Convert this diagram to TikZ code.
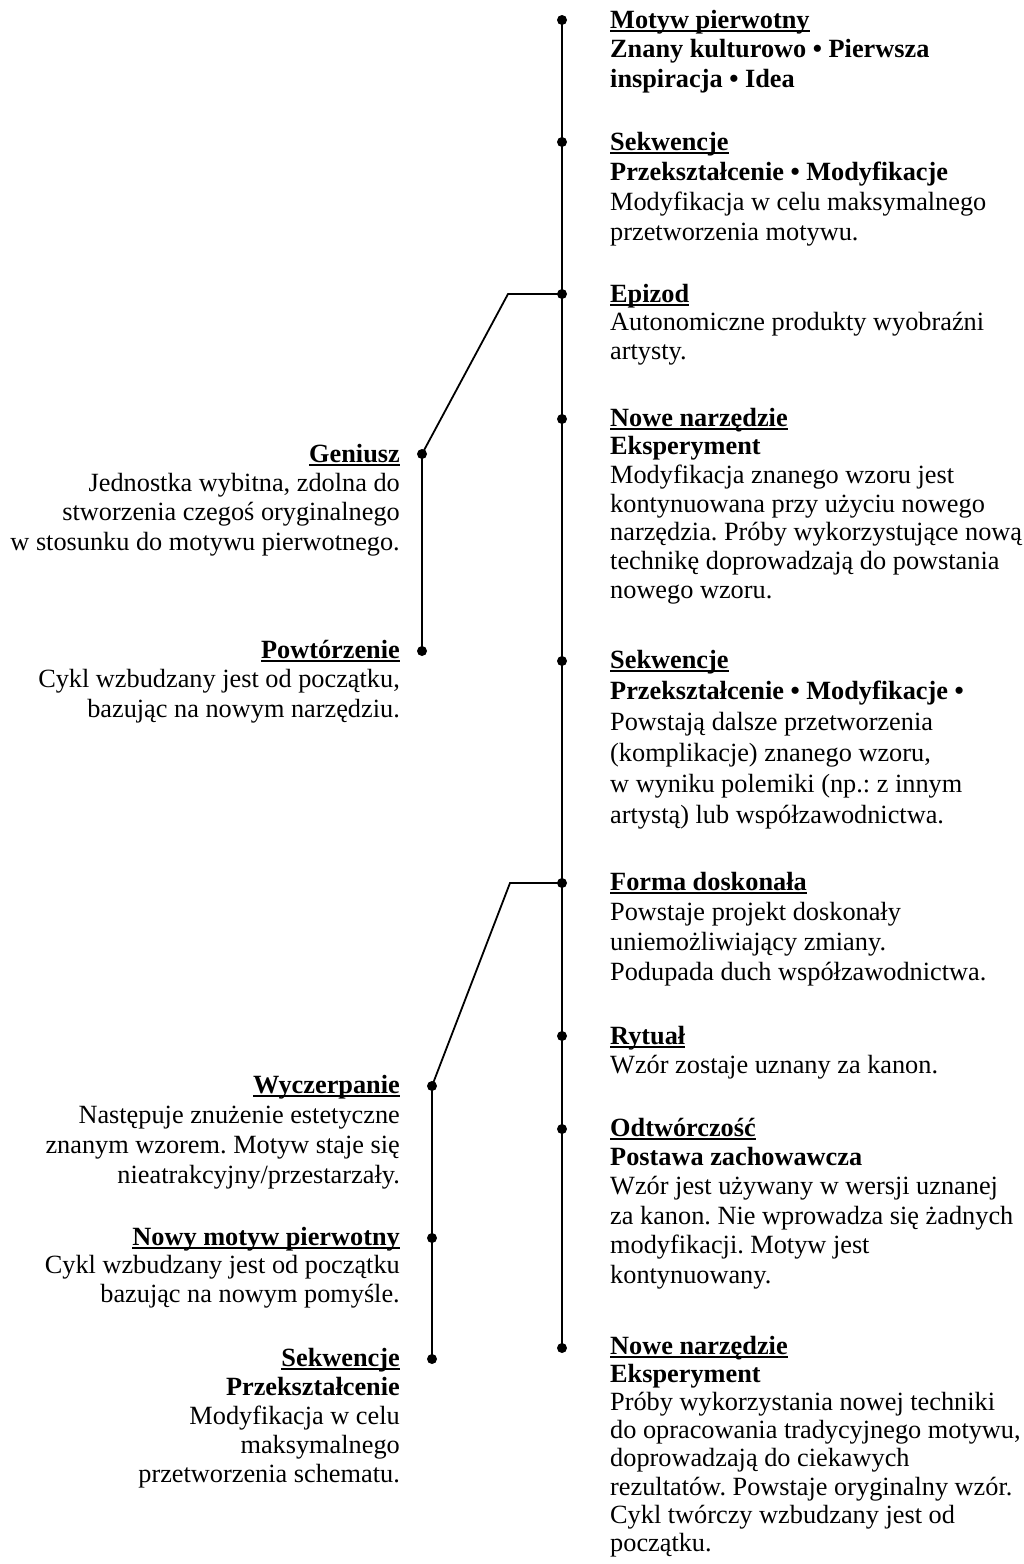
\documentclass[tikz,border=0pt]{standalone}
\usepackage{fontspec}
\setmainfont{Liberation Serif}
\frenchspacing
\newcommand{\ttl}[1]{\setbox0\hbox{\textbf{#1}}\rlap{\rule[-4pt]{\wd0}{1.7pt}}\box0}
\newcommand{\tb}[2]{\begin{tabular}[t]{@{}#1@{}}#2\end{tabular}}
\begin{document}
\begin{tikzpicture}[x=1pt,y=-1pt,
  dot/.style={circle,fill=black,inner sep=0pt,minimum size=10pt},
  rtext/.style={anchor=base west,inner sep=0pt,font=\fontsize{26.3}{#1}\selectfont\frenchspacing},
  rtext/.default=29.5,
  ltext/.style={anchor=base east,inner sep=0pt,font=\fontsize{26.3}{#1}\selectfont\frenchspacing},
  ltext/.default=29.5,
  conn/.style={line width=1.8pt}]
\useasboundingbox (0,0) rectangle (1024,1564);
% main line dots
\node[dot] (d1) at (562,20) {};
\node[dot] (d2) at (562,142) {};
\node[dot] (d3) at (562,294) {};
\node[dot] (d4) at (562,419) {};
\node[dot] (d5) at (562,661) {};
\node[dot] (d6) at (562,883) {};
\node[dot] (d7) at (562,1036) {};
\node[dot] (d8) at (562,1129) {};
\node[dot] (d9) at (562,1348) {};
% branch dots
\node[dot] (g1) at (422,454) {};
\node[dot] (g2) at (422,651) {};
\node[dot] (w1) at (432,1086) {};
\node[dot] (w2) at (432,1238) {};
\node[dot] (w3) at (432,1359) {};
\coordinate (k1) at (508,294);
\coordinate (k2) at (510,883);
% connectors
\draw[conn] (d1.center) -- (d9.center);
\draw[conn] (d3.center) -- (k1) -- (g1.center) -- (g2.center);
\draw[conn] (d6.center) -- (k2) -- (w1.center) -- (w3.center);
% right texts
\node[rtext] (t1) at (610,28) {\tb{l}{\ttl{Motyw pierwotny}\\ \textbf{Znany kulturowo • Pierwsza}\\ \textbf{inspiracja • Idea}}};
\node[rtext=30] (t2) at (610,150) {\tb{l}{\ttl{Sekwencje}\\ \textbf{Przekształcenie • Modyfikacje}\\ Modyfikacja w celu maksymalnego\\ przetworzenia motywu.}};
\node[rtext=28.5] (t3) at (610,302) {\tb{l}{\ttl{Epizod}\\ Autonomiczne produkty wyobraźni\\ artysty.}};
\node[rtext=28.7] (t4) at (610,426) {\tb{l}{\ttl{Nowe narzędzie}\\ \textbf{Eksperyment}\\ Modyfikacja znanego wzoru jest\\ kontynuowana przy użyciu nowego\\ narzędzia. Próby wykorzystujące nową\\ technikę doprowadzają do powstania\\ nowego wzoru.}};
\node[rtext=31] (t5) at (610,668) {\tb{l}{\ttl{Sekwencje}\\ \textbf{Przekształcenie • Modyfikacje •}\\ Powstają dalsze przetworzenia\\ (komplikacje) znanego wzoru,\\ w wyniku polemiki (np.: z innym\\ artystą) lub współzawodnictwa.}};
\node[rtext=30] (t6) at (610,890) {\tb{l}{\ttl{Forma doskonała}\\ Powstaje projekt doskonały\\ uniemożliwiający zmiany.\\ Podupada duch współzawodnictwa.}};
\node[rtext=29] (t7) at (610,1044) {\tb{l}{\ttl{Rytuał}\\ Wzór zostaje uznany za kanon.}};
\node[rtext=29.4] (t8) at (610,1136) {\tb{l}{\ttl{Odtwórczość}\\ \textbf{Postawa zachowawcza}\\ Wzór jest używany w wersji uznanej\\ za kanon. Nie wprowadza się żadnych\\ modyfikacji. Motyw jest\\ kontynuowany.}};
\node[rtext=28.2] (t9) at (610,1354) {\tb{l}{\ttl{Nowe narzędzie}\\ \textbf{Eksperyment}\\ Próby wykorzystania nowej techniki\\ do opracowania tradycyjnego motywu,\\ doprowadzają do ciekawych\\ rezultatów. Powstaje oryginalny wzór.\\ Cykl twórczy wzbudzany jest od\\ początku.}};
% left texts
\node[ltext=29.4] (l1) at (400,462) {\tb{r}{\ttl{Geniusz}\\ Jednostka wybitna, zdolna do\\ stworzenia czegoś oryginalnego\\ w stosunku do motywu pierwotnego.}};
\node[ltext=29.5] (l2) at (400,658) {\tb{r}{\ttl{Powtórzenie}\\ Cykl wzbudzany jest od początku,\\ bazując na nowym narzędziu.}};
\node[ltext=30] (l3) at (400,1093) {\tb{r}{\ttl{Wyczerpanie}\\ Następuje znużenie estetyczne\\ znanym wzorem. Motyw staje się\\ nieatrakcyjny/przestarzały.}};
\node[ltext=28.5] (l4) at (400,1245) {\tb{r}{\ttl{Nowy motyw pierwotny}\\ Cykl wzbudzany jest od początku\\ bazując na nowym pomyśle.}};
\node[ltext=29] (l5) at (400,1366) {\tb{r}{\ttl{Sekwencje}\\ \textbf{Przekształcenie}\\ Modyfikacja w celu\\ maksymalnego\\ przetworzenia schematu.}};
\end{tikzpicture}
\end{document}
